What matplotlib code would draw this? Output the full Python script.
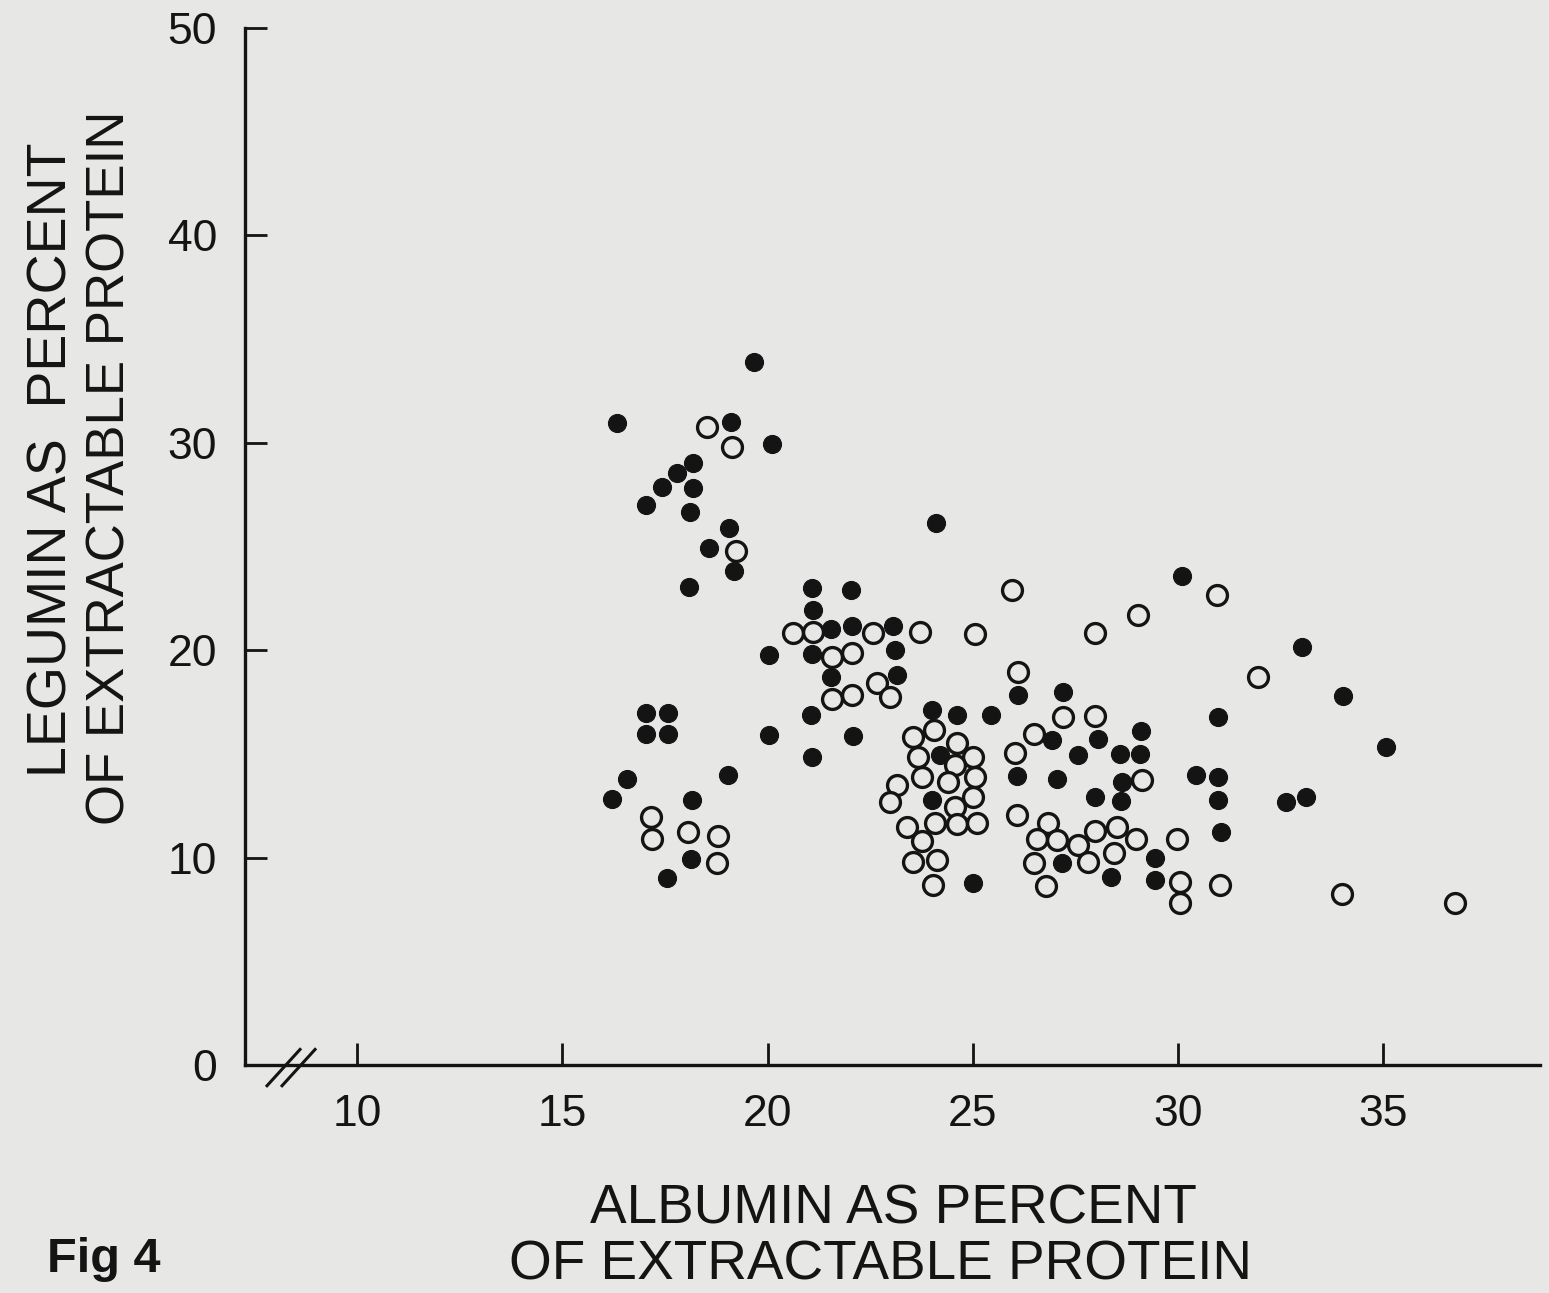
import numpy as np
import matplotlib.pyplot as plt

# values (albumin %, legumin %)
filled_x = [16.33, 19.67, 19.11, 20.10, 18.18, 17.79, 17.42, 18.19, 17.03, 18.11,
            19.05, 18.58, 19.18, 18.09, 21.08, 22.03, 21.12, 21.55, 22.05, 23.06,
            20.04, 21.08, 23.11, 21.55, 23.15, 21.05, 20.04, 22.09, 21.08, 24.00,
            24.62, 25.44, 24.20, 24.00, 25.01, 26.10, 26.07, 17.04, 17.57, 17.04,
            17.57, 16.57, 16.21, 19.03, 18.16, 18.14, 17.54, 30.11, 27.19, 26.94,
            28.04, 29.10, 27.57, 28.59, 29.07, 27.06, 28.63, 27.98, 28.61, 27.17,
            28.36, 29.44, 29.44, 33.01, 34.03, 30.97, 35.06, 30.44, 30.98, 30.98,
            31.04, 32.63, 33.12, 24.10]
filled_y = [30.97, 33.91, 31.02, 29.93, 29.04, 28.53, 27.88, 27.81, 27.00, 26.65,
            25.91, 24.91, 23.83, 23.06, 22.98, 22.90, 21.94, 21.01, 21.17, 21.18,
            19.77, 19.80, 20.01, 18.69, 18.80, 16.88, 15.91, 15.86, 14.84, 17.12,
            16.88, 16.88, 14.95, 12.78, 8.76, 17.85, 13.93, 16.99, 16.99, 15.95,
            15.95, 13.79, 12.83, 13.98, 12.78, 9.92, 9.03, 23.58, 18.00, 15.67,
            15.72, 16.10, 14.95, 15.00, 15.00, 13.79, 13.66, 12.94, 12.73, 9.75,
            9.05, 9.97, 8.92, 20.17, 17.81, 16.79, 15.32, 13.98, 13.90, 12.78,
            11.25, 12.67, 12.91, 26.13]

open_x = [18.52, 19.13, 19.23, 20.63, 21.12, 22.58, 23.71, 21.56, 22.05, 22.66,
          21.56, 22.05, 22.98, 17.16, 17.19, 18.07, 18.80, 18.76, 23.55, 24.06,
          24.61, 23.67, 25.01, 24.57, 23.76, 24.40, 25.05, 23.15, 22.98, 25.01,
          24.57, 23.39, 24.08, 24.61, 25.10, 23.76, 23.55, 24.14, 24.04, 26.03,
          26.07, 25.95, 29.02, 27.99, 26.10, 27.19, 27.99, 26.50, 26.84, 26.56,
          27.05, 27.57, 27.98, 28.51, 28.97, 28.45, 27.81, 26.50, 26.78, 29.12,
          29.98, 30.05, 30.05, 30.94, 31.94, 31.02, 34.00, 36.76, 25.05]
open_y = [30.75, 29.81, 24.80, 20.81, 20.89, 20.84, 20.89, 19.69, 19.85, 18.40,
          17.63, 17.84, 17.76, 11.97, 10.88, 11.25, 11.04, 9.75, 15.83, 16.15,
          15.51, 14.87, 14.87, 14.46, 13.90, 13.66, 13.90, 13.50, 12.70, 12.94,
          12.45, 11.49, 11.65, 11.62, 11.65, 10.80, 9.80, 9.88, 8.68, 15.03,
          12.05, 22.90, 21.70, 20.81, 18.93, 16.76, 16.84, 15.96, 11.68, 10.88,
          10.85, 10.61, 11.30, 11.46, 10.90, 10.21, 9.80, 9.73, 8.65, 13.74,
          10.90, 8.84, 7.80, 22.66, 18.72, 8.68, 8.24, 7.80, 20.78]

x_ticks = [10, 15, 20, 25, 30, 35]
y_ticks = [0, 10, 20, 30, 40, 50]

paper = "#e7e7e5"
ink = "#141414"

plt.rcParams['font.family'] = ['Liberation Sans', 'DejaVu Sans']

fig = plt.figure(figsize=(15.49, 12.93), dpi=100, facecolor=paper)
ax = fig.add_axes([245/1549, 1 - 1065/1293, 1295/1549, 1037/1293])
ax.set_facecolor(paper)

ax.plot(filled_x, filled_y, 'o', ms=13, mfc=ink, mec=ink, mew=0.8, ls='none', zorder=3)
ax.plot(open_x, open_y, 'o', ms=14.3, mfc=paper, mec=ink, mew=2.4, ls='none', zorder=4)

ax.set_xlim(7.27, 38.82)
ax.set_ylim(0, 50)
ax.set_xticks(x_ticks)
ax.set_yticks(y_ticks)

for s in ['top', 'right']:
    ax.spines[s].set_visible(False)
for s in ['left', 'bottom']:
    ax.spines[s].set_linewidth(2.4)
    ax.spines[s].set_color(ink)

ax.tick_params(direction='in', length=16, width=2, color=ink, labelsize=32, labelcolor=ink)
ax.tick_params(axis='x', pad=21)
ax.tick_params(axis='y', pad=20)

# axis break marks
for x0 in [0.017, 0.0286]:
    ax.plot([x0, x0 + 0.0255], [-0.02, 0.015], color=ink, lw=2.2,
            transform=ax.transAxes, clip_on=False)

fig.text(893/1549, 1 - 1223/1293, "ALBUMIN AS PERCENT", ha='center', va='baseline',
         fontsize=39.5, color=ink)
fig.text(880/1549, 1 - 1280/1293, "OF EXTRACTABLE PROTEIN", ha='center', va='baseline',
         fontsize=39.5, color=ink)

fig.text(79/1549, 1 - 460/1293, "LEGUMIN AS  PERCENT", rotation=90, ha='right',
         va='center', fontsize=40, color=ink)
fig.text(136/1549, 1 - 468/1293, "OF EXTRACTABLE PROTEIN", rotation=90, ha='right',
         va='center', fontsize=38, color=ink)

fig.text(47/1549, 1 - 1272/1293, "Fig 4", ha='left', va='baseline', fontsize=35,
         fontweight='bold', color=ink)

fig.savefig("out.png", dpi=100, facecolor=paper)
